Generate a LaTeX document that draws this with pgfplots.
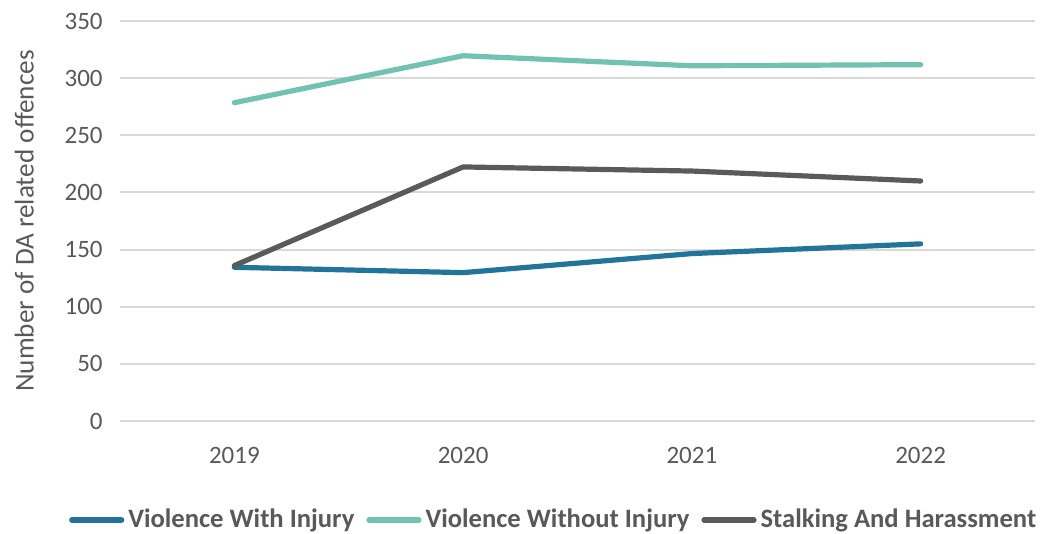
\documentclass[border=0pt]{standalone}
\usepackage{fontspec}
\setmainfont{Carlito}
\usepackage{pgfplots}
\pgfplotsset{compat=1.18}
\definecolor{cwith}{HTML}{22749A}
\definecolor{cwithout}{HTML}{72C2B4}
\definecolor{cstalk}{HTML}{5A5A5A}
\definecolor{gridcol}{HTML}{D9D9D9}
\definecolor{txt}{HTML}{595959}
\begin{document}
\begin{tikzpicture}
\useasboundingbox (-60pt,-56.5pt) rectangle (463.5pt,210.5pt);
\begin{axis}[
  at={(0,0)}, anchor=south west,
  scale only axis, width=457.5pt, height=200pt,
  xmin=-0.5, xmax=3.5, ymin=0, ymax=350,
  xtick={0,1,2,3}, xticklabels={2019,2020,2021,2022},
  ytick={0,50,...,350},
  axis line style={draw=none},
  major tick length=0pt,
  ymajorgrids, grid style={draw=gridcol, line width=1pt},
  font=\fontsize{12.5pt}{15pt}\selectfont,
  tick label style={text=txt},
  /pgf/number format/assume math mode=true,
  yticklabel style={anchor=east, inner sep=0pt, xshift=-8.5pt},
  xticklabel style={anchor=north, inner sep=0pt, yshift=-13pt},
  ylabel={Number of DA related offences},
  ylabel style={text=txt, font=\fontsize{13.6pt}{16pt}\selectfont, at={(axis description cs:-0.1045,0.5)}, anchor=center},
  legend style={at={(axis description cs:0.475,-0.2475)}, anchor=center, draw=none,
    font=\bfseries\fontsize{13.3pt}{16pt}\selectfont, text=txt,
    /tikz/every even column/.append style={column sep=4pt}},
  legend columns=3,
  legend image code/.code={\draw[#1, line cap=round] (0pt,0pt) -- (25pt,0pt);},
  every axis plot/.append style={line width=2.6pt, line cap=round, line join=round},
]
\addplot[cwith] coordinates {(0,134.5) (1,129.8) (2,146.5) (3,155)};
\addlegendentry{Violence With Injury}
\addplot[cwithout] coordinates {(0,278.5) (1,319.6) (2,310.8) (3,311.8)};
\addlegendentry{Violence Without Injury}
\addplot[cstalk] coordinates {(0,136) (1,222.3) (2,218.7) (3,210)};
\addlegendentry{Stalking And Harassment}
\end{axis}
\end{tikzpicture}
\end{document}
